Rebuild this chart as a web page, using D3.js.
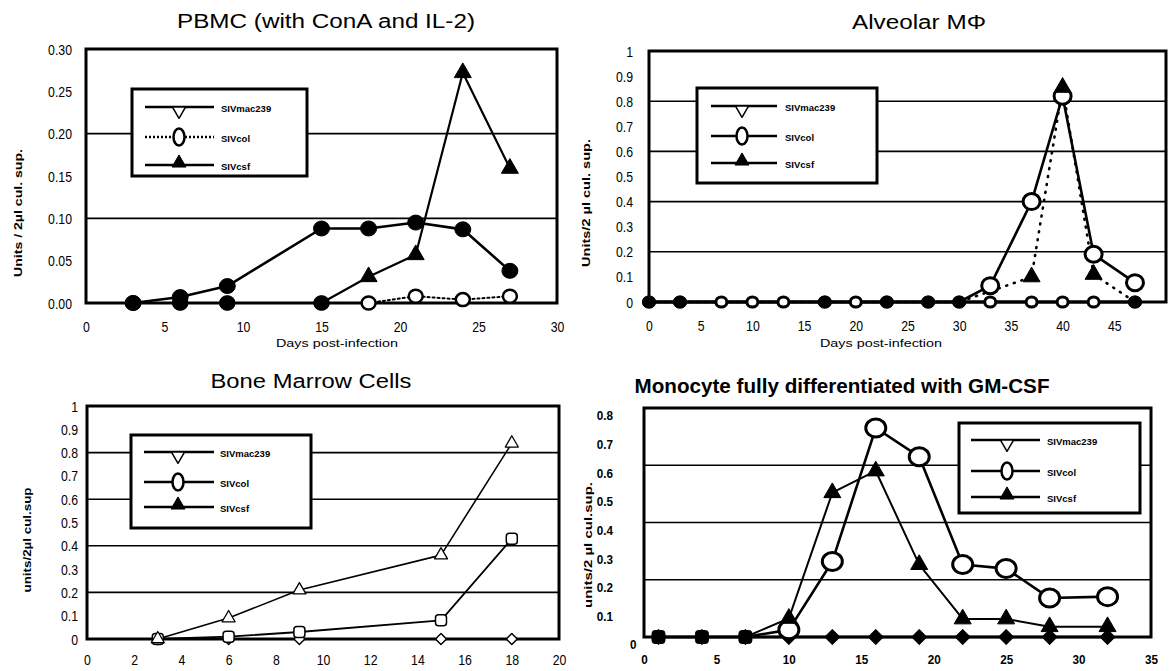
<!DOCTYPE html>
<html><head><meta charset="utf-8">
<script src="https://cdn.jsdelivr.net/npm/d3@7"></script>
<style>html,body{margin:0;padding:0;background:#fff}svg{display:block}</style>
</head><body>
<svg id="c" width="1169" height="671"></svg>
<script>
// ================= DATA =================
const legendLabels = ["SIVmac239", "SIVcol", "SIVcsf"];
const xAxisTitle = "Days post-infection";

// PBMC (with ConA and IL-2)
const pbmcTitle = "PBMC (with ConA and IL-2)";
const pbmcDays = [3, 6, 9, 15, 18, 21, 24, 27];
const pbmcMac239 = [0, 0.007, 0.02, 0.088, 0.088, 0.095, 0.087, 0.038];
const pbmcCol = [0, 0, 0, 0, 0, 0.008, 0.004, 0.008];
const pbmcCsf = [0, 0, 0, 0, 0.031, 0.057, 0.272, 0.159];
const pbmcYTicks = [0, 0.05, 0.10, 0.15, 0.20, 0.25, 0.30];
const pbmcXTicks = [0, 5, 10, 15, 20, 25, 30];
const pbmcGrid = [0.10, 0.20];

// Alveolar MΦ
const alvTitle = "Alveolar MΦ";
const alvDays = [0, 3, 7, 10, 13, 17, 20, 23, 27, 30, 33, 37, 40, 43, 47];
const alvMac239 = [0, 0, 0, 0, 0, 0, 0, 0, 0, 0, 0, 0, 0, 0, 0];
const alvCol = [0, 0, 0, 0, 0, 0, 0, 0, 0, 0, 0.065, 0.40, 0.82, 0.19, 0.077];
const alvCsfDays = [0, 3, 17, 23, 27, 30, 37, 40, 43, 47];
const alvCsf = [0, 0, 0, 0, 0, 0, 0.10, 0.855, 0.11, 0];
const alvYTicks = [0, 0.1, 0.2, 0.3, 0.4, 0.5, 0.6, 0.7, 0.8, 0.9, 1];
const alvXTicks = [0, 5, 10, 15, 20, 25, 30, 35, 40, 45];
const alvGrid = [0.2, 0.4, 0.6, 0.8];

// Bone Marrow Cells
const bmTitle = "Bone Marrow Cells";
const bmDays = [3, 6, 9, 15, 18];
const bmMac239 = [0, 0, 0, 0, 0];
const bmCol = [0, 0.01, 0.03, 0.08, 0.43];
const bmCsf = [0, 0.09, 0.21, 0.36, 0.84];
const bmYTicks = [0, 0.1, 0.2, 0.3, 0.4, 0.5, 0.6, 0.7, 0.8, 0.9, 1];
const bmXTicks = [0, 2, 4, 6, 8, 10, 12, 14, 16, 18, 20];
const bmGrid = [0.2, 0.4, 0.6, 0.8];

// Monocyte fully differentiated with GM-CSF
const moTitle = "Monocyte fully differentiated with GM-CSF";
const moDays = [1, 4, 7, 10, 13, 16, 19, 22, 25, 28, 32];
const moMac239 = [0, 0, 0, 0, 0, 0, 0, 0, 0, 0, 0];
const moCol = [0, 0, 0, 0.025, 0.264, 0.73, 0.63, 0.253, 0.239, 0.136, 0.141];
const moCsf = [0, 0, 0, 0.065, 0.504, 0.58, 0.253, 0.063, 0.063, 0.036, 0.036];
const moYTicks = [0, 0.1, 0.2, 0.3, 0.4, 0.5, 0.6, 0.7, 0.8];
const moXTicks = [0, 5, 10, 15, 20, 25, 30, 35];
const moGrid = [0.2, 0.4, 0.6];

// ================= DRAWING =================
const FONT = "'Liberation Sans', Arial, Helvetica, sans-serif";
const svg = d3.select("#c");
svg.append("rect").attr("width", 1169).attr("height", 671).attr("fill", "#fff");

function drawMarker(g, m, cx, cy) {
  const sw = m.sw || 0;
  let el;
  if (m.type === "circle") {
    el = g.append("ellipse").attr("cx", cx).attr("cy", cy).attr("rx", m.rx).attr("ry", m.ry || m.rx);
  } else if (m.type === "rsq") {
    el = g.append("rect").attr("x", cx - m.s / 2).attr("y", cy - m.s / 2)
      .attr("width", m.s).attr("height", m.s).attr("rx", m.r || 3);
  } else {
    let d, rot = 0;
    if (m.type === "tri") d = d3.symbol(d3.symbolTriangle, m.s * m.s * Math.sqrt(3) / 4)();
    if (m.type === "triDown") { d = d3.symbol(d3.symbolTriangle, m.s * m.s * Math.sqrt(3) / 4)(); rot = 180; }
    if (m.type === "diamond") { d = d3.symbol(d3.symbolSquare, m.s * m.s / 2)(); rot = 45; }
    el = g.append("path").attr("d", d).attr("transform", `translate(${cx},${cy}) rotate(${rot})`);
  }
  el.attr("fill", m.fill).attr("stroke", "#000").attr("stroke-width", m.fill === "#000" && !m.sw ? 1 : sw)
    .attr("stroke-linejoin", "round");
}

function drawPanel(p) {
  const x = d3.scaleLinear().domain(p.xDom).range([p.x0, p.x1]);
  const y = d3.scaleLinear().domain(p.yDom).range([p.y0, p.y1]);
  const g = svg.append("g");

  // gridlines
  g.selectAll(null).data(p.grid).join("line")
    .attr("x1", p.x0).attr("x2", p.x1)
    .attr("y1", d => y(d)).attr("y2", d => y(d))
    .attr("stroke", "#000").attr("stroke-width", 1.6);

  // axes
  const sx = p.tickScaleX;
  const yAx = d3.axisLeft(y).tickValues(p.yTicks).tickSize(0).tickPadding(p.yPad / sx).tickFormat(p.yFmt);
  const ya = g.append("g").attr("transform", `translate(${p.x0},0)`).call(yAx);
  ya.select(".domain").remove();
  ya.attr("font-family", FONT).attr("font-size", p.tickSize).attr("font-weight", p.tickBold ? "bold" : "normal");
  ya.selectAll("text").attr("fill", "#000").attr("dy", (p.yDy || 0) + 5)
    .attr("transform", `scale(${sx},1)`);
  if (p.zeroLabelShift) ya.selectAll(".tick").filter(d => d === 0).select("text").attr("x", -p.yPad / sx + p.zeroLabelShift);

  const xAx = d3.axisBottom(x).tickValues(p.xTicks).tickSize(0).tickPadding(p.xPad).tickFormat(d3.format("d"));
  const xa = g.append("g").attr("transform", `translate(0,${p.y0})`).call(xAx);
  xa.select(".domain").remove();
  xa.attr("font-family", FONT).attr("font-size", p.tickSize).attr("font-weight", p.tickBold ? "bold" : "normal");
  xa.selectAll("text").attr("fill", "#000").attr("transform", `scale(${sx},1)`);

  // plot frame
  g.append("rect").attr("x", p.x0).attr("y", p.y1).attr("width", p.x1 - p.x0).attr("height", p.y0 - p.y1)
    .attr("fill", "none").attr("stroke", "#000").attr("stroke-width", 3);

  // titles
  g.append("text").attr("x", p.titleX).attr("y", p.titleY).attr("text-anchor", "middle")
    .attr("font-family", FONT).attr("font-size", p.titleSize).attr("font-weight", p.titleBold ? "bold" : "normal")
    .attr("textLength", p.titleW).attr("lengthAdjust", "spacingAndGlyphs").text(p.title);
  if (p.xTitle) {
    g.append("text").attr("x", p.xTitleX).attr("y", p.xTitleY).attr("text-anchor", "middle")
      .attr("font-family", FONT).attr("font-size", 10.5)
      .attr("textLength", 122).attr("lengthAdjust", "spacingAndGlyphs").text(p.xTitle);
  }
  g.append("text").attr("transform", `translate(${p.yTitleX},${p.yTitleY}) rotate(-90)`)
    .attr("text-anchor", "middle").attr("dy", "0.35em")
    .attr("font-family", FONT).attr("font-size", 10.5).attr("font-weight", "bold")
    .attr("textLength", p.yTitleW).attr("lengthAdjust", "spacingAndGlyphs").text(p.yTitle);

  // legend
  const L = p.legend;
  const lg = g.append("g");
  lg.append("rect").attr("x", L.x).attr("y", L.y).attr("width", L.w).attr("height", L.h)
    .attr("fill", "#fff").attr("stroke", "#000").attr("stroke-width", 3);
  legendLabels.forEach((lab, i) => {
    const ry = L.rows[i];
    lg.append("line").attr("x1", L.lx0).attr("x2", L.lx1).attr("y1", ry).attr("y2", ry)
      .attr("stroke", "#000").attr("stroke-width", 2.5)
      .attr("stroke-dasharray", (i === 1 && L.dotted) ? "2,2" : null);
    if (i === 0) drawMarker(lg, {type: "triDown", s: 13, fill: "#fff", sw: 1.5}, L.mx, ry + 3.8);
    if (i === 1) drawMarker(lg, {type: "circle", rx: 5.5, ry: 8.5, fill: "#fff", sw: 2.5}, L.mx, ry);
    if (i === 2) drawMarker(lg, {type: "tri", s: 14, fill: "#000"}, L.mx, ry - 2);
    lg.append("text").attr("x", L.tx).attr("y", ry + 5)
      .attr("font-family", FONT).attr("font-size", 9.5).attr("font-weight", "bold").text(lab);
  });

  // series lines, then markers
  p.series.forEach(s => {
    const pts = s.days.map((d, i) => [d, s.vals[i]]);
    g.append("path").datum(pts)
      .attr("d", d3.line().x(d => x(d[0])).y(d => y(d[1])))
      .attr("fill", "none").attr("stroke", "#000").attr("stroke-width", s.lw)
      .attr("stroke-linecap", "round").attr("stroke-linejoin", "round")
      .attr("stroke-dasharray", s.dash || null);
  });
  p.series.forEach(s => {
    s.days.forEach((d, i) => {
      const v = s.vals[i];
      const m = (v === 0 && s.zeroMarker !== undefined) ? s.zeroMarker : s.marker;
      if (m) drawMarker(g, m, x(d), y(v));
    });
  });
}

const fmt2 = d3.format(".2f");
const fmtG = d3.format("~g");

const panels = [
  {
    title: pbmcTitle, titleX: 326, titleY: 28, titleW: 298, titleSize: 20, titleBold: false,
    x0: 86, x1: 557, y0: 303, y1: 49, xDom: [0, 30], yDom: [0, 0.3],
    yTicks: pbmcYTicks, xTicks: pbmcXTicks, yFmt: fmt2, grid: pbmcGrid,
    yPad: 14, xPad: 18, tickSize: 15, tickBold: false, tickScaleX: 0.82,
    xTitle: xAxisTitle, xTitleX: 337, xTitleY: 347,
    yTitle: "Units / 2µl cul. sup.", yTitleX: 18, yTitleY: 213, yTitleW: 128,
    legend: {x: 132, y: 89, w: 175, h: 87, rows: [107, 137, 165], lx0: 145, lx1: 214, mx: 179, tx: 221, dotted: true},
    series: [
      {days: pbmcDays, vals: pbmcCol, lw: 2, dash: "2,3", marker: {type: "circle", rx: 7, ry: 6.5, fill: "#fff", sw: 2.5}},
      {days: pbmcDays, vals: pbmcCsf, lw: 2.2, marker: {type: "tri", s: 17, fill: "#000"}, zeroMarker: {type: "circle", rx: 7.5, ry: 7, fill: "#000"}},
      {days: pbmcDays, vals: pbmcMac239, lw: 2.6, marker: {type: "circle", rx: 8, ry: 7.5, fill: "#000"}}
    ]
  },
  {
    title: alvTitle, titleX: 919, titleY: 29, titleW: 134, titleSize: 20, titleBold: false,
    x0: 649, x1: 1166, y0: 302, y1: 51, xDom: [0, 50], yDom: [0, 1],
    yTicks: alvYTicks, xTicks: alvXTicks, yFmt: fmtG, grid: alvGrid,
    yPad: 16, xPad: 18, tickSize: 15, tickBold: false, tickScaleX: 0.82,
    xTitle: xAxisTitle, xTitleX: 881, xTitleY: 347,
    yTitle: "Units/2 µl cul. sup.", yTitleX: 586, yTitleY: 203, yTitleW: 128,
    legend: {x: 697, y: 88, w: 180, h: 95, rows: [106, 136, 163], lx0: 711, lx1: 777, mx: 742, tx: 785, dotted: false},
    series: [
      {days: alvDays, vals: alvMac239, lw: 3, marker: {type: "circle", rx: 5.5, ry: 5, fill: "#fff", sw: 3}},
      {days: alvDays, vals: alvCol, lw: 2.6, marker: {type: "circle", rx: 8.5, ry: 8, fill: "#fff", sw: 3}, zeroMarker: null},
      {days: alvCsfDays, vals: alvCsf, lw: 2.6, dash: "1,7", marker: {type: "tri", s: 17, fill: "#000"}, zeroMarker: {type: "circle", rx: 6.5, ry: 6, fill: "#000"}}
    ]
  },
  {
    title: bmTitle, titleX: 311, titleY: 388, titleW: 201, titleSize: 20, titleBold: false,
    x0: 87, x1: 559, y0: 639, y1: 406, xDom: [0, 20], yDom: [0, 1],
    yTicks: bmYTicks, xTicks: bmXTicks, yFmt: fmtG, grid: bmGrid,
    yPad: 9, xPad: 15, tickSize: 15, tickBold: false, tickScaleX: 0.82,
    xTitle: null,
    yTitle: "units/2µl cul.sup", yTitleX: 27, yTitleY: 540, yTitleW: 105,
    legend: {x: 131, y: 435, w: 180, h: 93, rows: [452, 482, 507], lx0: 144, lx1: 214, mx: 178, tx: 220, dotted: false},
    series: [
      {days: bmDays, vals: bmMac239, lw: 1.6, marker: {type: "diamond", s: 11, fill: "#fff", sw: 1.5}},
      {days: bmDays, vals: bmCol, lw: 1.8, marker: {type: "rsq", s: 11, r: 3, fill: "#fff", sw: 1.5}},
      {days: bmDays, vals: bmCsf, lw: 1.6, marker: {type: "tri", s: 13, fill: "#fff", sw: 1.3}}
    ]
  },
  {
    title: moTitle, titleX: 842, titleY: 393, titleW: 415, titleSize: 20, titleBold: true,
    x0: 644, x1: 1151, y0: 637, y1: 408, xDom: [0, 35], yDom: [0, 0.8],
    yTicks: moYTicks, xTicks: moXTicks, yFmt: fmtG, grid: moGrid,
    yPad: 31, xPad: 18, tickSize: 13, tickBold: true, tickScaleX: 0.9, yDy: 7, zeroLabelShift: 26,
    xTitle: null,
    yTitle: "units/2 µl cul.sup.", yTitleX: 588, yTitleY: 545, yTitleW: 126,
    legend: {x: 959, y: 423, w: 181, h: 90, rows: [440, 471, 497], lx0: 971, lx1: 1040, mx: 1007, tx: 1047, dotted: false},
    series: [
      {days: moDays, vals: moMac239, lw: 2.6, marker: {type: "diamond", s: 15, fill: "#000"}},
      {days: moDays, vals: moCol, lw: 2.6, marker: {type: "circle", rx: 10, ry: 9, fill: "#fff", sw: 3}, zeroMarker: {type: "rsq", s: 13, r: 3, fill: "#000"}},
      {days: moDays, vals: moCsf, lw: 2, marker: {type: "tri", s: 17, fill: "#000"}, zeroMarker: null}
    ]
  }
];

panels.forEach(drawPanel);
</script>
</body></html>
